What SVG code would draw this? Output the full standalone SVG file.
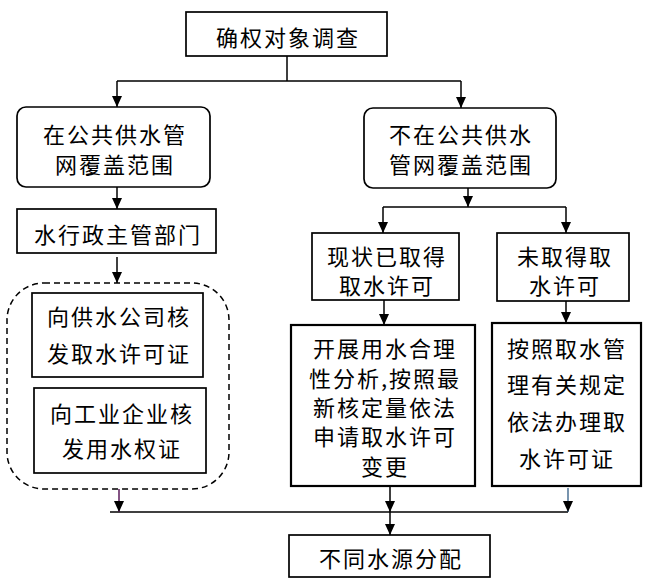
<svg xmlns="http://www.w3.org/2000/svg" width="652" height="585" viewBox="0 0 652 585">
<style>
.box{fill:#fff;stroke:#000;stroke-width:1.7}
.thick{fill:#fff;stroke:#000;stroke-width:2.2}
.t{font-family:"Noto Sans CJK SC","Noto Sans",sans-serif;font-size:22px;letter-spacing:2px;fill:#000;text-anchor:middle;dominant-baseline:central}
.c{fill:none;stroke:#000;stroke-width:1.5}
</style>
<defs>
<marker id="a" markerUnits="userSpaceOnUse" markerWidth="12" markerHeight="10" refX="11" refY="5" orient="auto" viewBox="0 0 12 10">
<path d="M0 0 L11 5 L0 10 Z" fill="#000"/>
</marker>
</defs>
<rect width="652" height="585" fill="#fff"/>
<g id="connectors">
<path class="c" d="M287 56 V81 M117 81 H461"/>
<path class="c" d="M117 81 V107" marker-end="url(#a)"/>
<path class="c" d="M461 81 V108" marker-end="url(#a)"/>
<path class="c" d="M117 187 V209" marker-end="url(#a)"/>
<path class="c" d="M117 257 V283" marker-end="url(#a)"/>
<path class="c" d="M468 188 V207" marker-end="url(#a)"/>
<path class="c" d="M383 207 H566"/>
<path class="c" d="M383 207 V233" marker-end="url(#a)"/>
<path class="c" d="M566 207 V233" marker-end="url(#a)"/>
<path class="c" d="M384 300 V325" marker-end="url(#a)"/>
<path class="c" d="M566 301 V323" marker-end="url(#a)"/>
<path class="c" d="M110 512 H568"/>
<path class="c" d="M390 486 V512" marker-end="url(#a)"/>
<path class="c" d="M390 512 V535" marker-end="url(#a)"/>
<path class="c" style="stroke:#5a1a5a" d="M119 489 V512" marker-end="url(#a)"/>
<path class="c" style="stroke:#1f4e79;stroke-width:1.2" d="M568 488 V512" marker-end="url(#a)"/>
</g>
<g id="n1"><rect class="box" x="186" y="12" width="201" height="44"/><text class="t" x="288" y="36">确权对象调查</text></g>
<g id="n2"><rect class="box" x="17" y="107" width="193" height="80" rx="9"/><text class="t" x="115" y="133">在公共供水管</text><text class="t" x="115" y="163">网覆盖范围</text></g>
<g id="n3"><rect class="box" x="364" y="108" width="192" height="80" rx="9"/><text class="t" x="461" y="133">不在公共供水</text><text class="t" x="461" y="163">管网覆盖范围</text></g>
<g id="n4"><rect class="box" x="17" y="209" width="199" height="44"/><text class="t" x="118" y="233">水行政主管部门</text></g>
<g id="group"><rect x="7" y="283" width="222" height="206" rx="37" fill="none" stroke="#000" stroke-width="1.5" stroke-dasharray="6,4"/></g>
<g id="n5"><rect class="box" x="32" y="293" width="171" height="84"/><text class="t" x="119" y="315">向供水公司核</text><text class="t" x="119" y="352">发取水许可证</text></g>
<g id="n6"><rect class="box" x="34" y="388" width="172" height="85"/><text class="t" x="122" y="412">向工业企业核</text><text class="t" x="122" y="447">发用水权证</text></g>
<g id="n7"><rect class="box" x="312" y="233" width="147" height="67"/><text class="t" x="387" y="255">现状已取得</text><text class="t" x="387" y="284">取水许可</text></g>
<g id="n8"><rect class="box" x="497" y="233" width="132" height="68"/><text class="t" x="565" y="255">未取得取</text><text class="t" x="565" y="284">水许可</text></g>
<g id="n9"><rect class="thick" x="291" y="325" width="184" height="161"/><text class="t" x="385" y="347">开展用水合理</text><text class="t" x="385" y="377">性分析,按照最</text><text class="t" x="385" y="406">新核定量依法</text><text class="t" x="385" y="435">申请取水许可</text><text class="t" x="385" y="465">变更</text></g>
<g id="n10"><rect class="thick" x="492" y="323" width="149" height="163"/><text class="t" x="567" y="347">按照取水管</text><text class="t" x="567" y="383">理有关规定</text><text class="t" x="567" y="420">依法办理取</text><text class="t" x="567" y="457">水许可证</text></g>
<g id="n11"><rect class="box" x="289" y="535" width="201" height="42"/><text class="t" x="391" y="557">不同水源分配</text></g>
</svg>
